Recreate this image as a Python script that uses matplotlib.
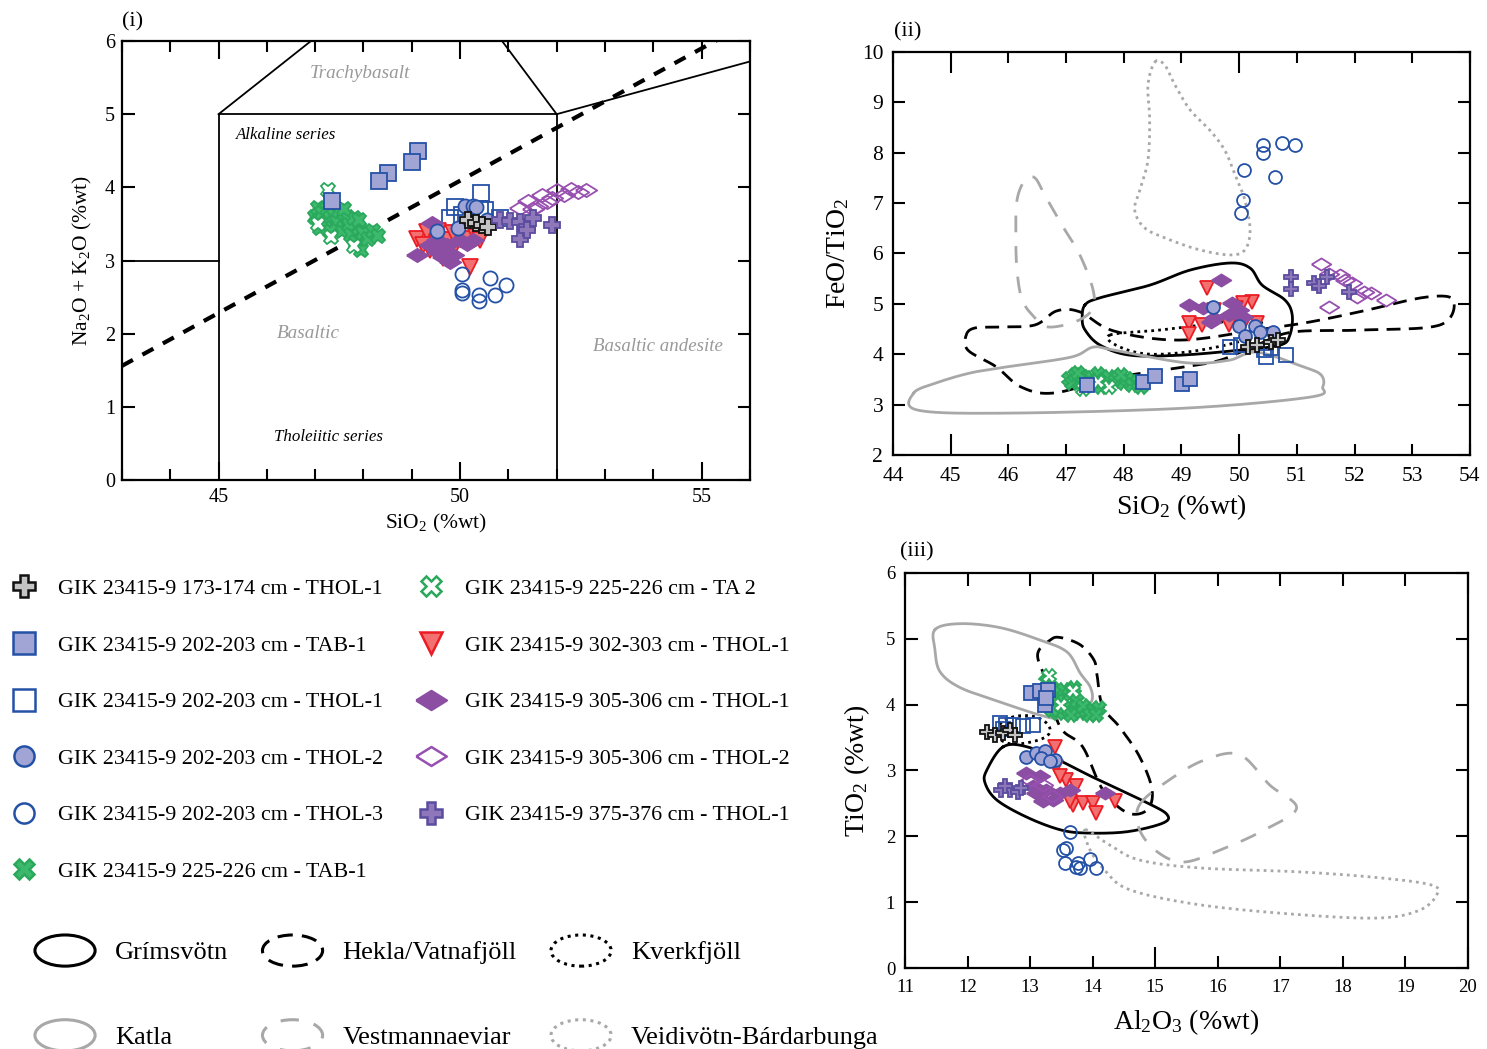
import numpy as np
import matplotlib
matplotlib.use("Agg")
import matplotlib.pyplot as plt
from matplotlib.lines import Line2D
from matplotlib.patches import Ellipse
from matplotlib.legend_handler import HandlerPatch
from matplotlib.ticker import MultipleLocator, FuncFormatter

plt.rcParams['font.family'] = ['Liberation Serif', 'DejaVu Serif']
plt.rcParams['mathtext.fontset'] = 'custom'
plt.rcParams['mathtext.rm'] = 'Liberation Serif'
plt.rcParams['mathtext.it'] = 'Liberation Serif:italic'

# ---------------- data: panel (i) SiO2 vs Na2O+K2O ----------------
tas_c173 = ([50.17, 50.34, 50.45, 50.58], [3.56, 3.51, 3.48, 3.46])
tas_c202_tab1 = ([49.13, 49.0, 48.51, 48.32, 47.35], [4.50, 4.35, 4.19, 4.08, 3.82])
tas_c202_thol1 = ([50.43, 49.89, 50.41, 49.79, 50.52, 50.83, 50.03],
                  [3.92, 3.73, 3.71, 3.58, 3.69, 3.58, 3.62])
tas_c202_thol2 = ([50.10, 50.26, 50.34, 50.56, 49.96, 49.53], [3.74, 3.75, 3.73, 3.56, 3.44, 3.41])
tas_c202_thol3 = ([50.03, 50.62, 50.95, 50.05, 50.03, 50.40, 50.72, 50.40],
                  [2.82, 2.76, 2.66, 2.60, 2.56, 2.53, 2.53, 2.44])
tas_c225_tab1 = ([47.0, 47.05, 47.1, 47.15, 47.2, 47.25, 47.3, 47.35, 47.4, 47.45, 47.5, 47.55, 47.6, 47.65,
                  47.7, 47.75, 47.8, 47.85, 47.9, 47.95, 48.0, 48.1, 48.2, 48.3, 47.3, 47.1, 47.6, 47.9],
                 [3.60, 3.72, 3.55, 3.65, 3.50, 3.70, 3.58, 3.45, 3.62, 3.52, 3.68, 3.40, 3.55, 3.60,
                  3.48, 3.35, 3.58, 3.25, 3.45, 3.15, 3.38, 3.30, 3.40, 3.33, 3.40, 3.45, 3.70, 3.55])
tas_c225_ta2 = ([47.27, 47.33, 47.05, 47.8], [3.97, 3.32, 3.50, 3.20])
tas_c302 = ([49.10, 49.31, 49.52, 49.72, 49.86, 50.10, 50.34, 50.41, 49.38, 49.65, 50.20, 49.86, 49.24, 49.55],
            [3.30, 3.39, 3.25, 3.28, 3.37, 3.30, 3.32, 3.28, 3.14, 3.03, 2.91, 3.14, 3.21, 3.41])
tas_c305_thol1 = ([49.10, 49.41, 49.52, 49.72, 50.0, 50.14, 49.86, 49.65, 49.79, 49.38, 50.27, 49.55],
                  [3.07, 3.51, 3.28, 3.21, 3.28, 3.23, 3.07, 3.05, 2.98, 3.21, 3.28, 3.12])
tas_c305_thol2 = ([51.4, 51.7, 52.0, 52.3, 52.6, 51.6, 51.9, 51.25, 52.15, 51.5, 52.45, 51.8],
                  [3.82, 3.89, 3.96, 3.98, 3.97, 3.75, 3.85, 3.72, 3.90, 3.70, 3.93, 3.80])
tas_c375 = ([50.83, 51.03, 51.24, 51.38, 51.52, 51.90, 51.24, 51.38],
            [3.55, 3.54, 3.53, 3.46, 3.58, 3.48, 3.30, 3.42])

# TAS field boundaries and alkaline / subalkaline divide
basalt_x = [45, 45, 52, 52]
basalt_y = [0, 5, 5, 0]
picro_x = [43, 45]
picro_y = [3, 3]
trachy_left_x = [45, 49.4]
trachy_left_y = [5, 7.3]
trachy_right_x = [52, 49.4]
trachy_right_y = [5, 7.3]
andesite_top_x = [52, 57]
andesite_top_y = [5, 5.9]
divide_x = [43, 56]
divide_y = [1.56, 6.26]

# ---------------- data: panel (ii) SiO2 vs FeO/TiO2 ----------------
fe_c173 = ([50.16, 50.31, 50.56, 50.68], [4.15, 4.18, 4.25, 4.28])
fe_c202_tab1 = ([47.37, 48.33, 48.55, 49.01, 49.15], [3.39, 3.45, 3.57, 3.41, 3.50])
fe_c202_thol1 = ([49.85, 50.03, 50.43, 50.47, 50.81, 50.56], [4.15, 4.18, 4.08, 3.95, 3.98, 4.12])
fe_c202_thol2 = ([49.54, 49.99, 50.27, 50.11, 50.36, 50.59], [4.93, 4.55, 4.56, 4.36, 4.45, 4.45])
fe_c202_thol3 = ([50.41, 50.41, 50.74, 50.96, 50.08, 50.63, 50.06, 50.03],
                 [8.15, 8.00, 8.20, 8.15, 7.65, 7.52, 7.06, 6.80])
fe_c225_tab1 = ([47.05, 47.1, 47.15, 47.25, 47.3, 47.35, 47.45, 47.5, 47.55, 47.65, 47.7,
                 47.75, 47.85, 47.9, 48.0, 48.05, 48.15, 48.25, 47.6, 47.2, 47.95, 48.3],
                [3.50, 3.42, 3.58, 3.45, 3.55, 3.38, 3.52, 3.44, 3.60, 3.48, 3.40,
                 3.55, 3.46, 3.52, 3.42, 3.50, 3.38, 3.45, 3.35, 3.62, 3.58, 3.35])
fe_c225_ta2 = ([47.3, 47.75, 47.55], [3.30, 3.35, 3.45])
fe_c302 = ([49.44, 50.22, 50.06, 49.94, 49.57, 49.14, 49.35, 49.14, 50.31, 49.82, 50.09],
           [5.31, 5.04, 5.01, 4.91, 4.88, 4.61, 4.58, 4.41, 4.61, 4.58, 4.61])
fe_c305_thol1 = ([49.69, 49.14, 49.38, 49.88, 50.0, 49.57, 49.82, 50.06, 49.51],
                 [5.47, 4.98, 4.91, 5.01, 4.88, 4.71, 4.78, 4.74, 4.64])
fe_c305_thol2 = ([51.42, 51.55, 51.74, 51.83, 51.95, 52.17, 52.29, 52.54, 51.55, 52.04],
                 [5.80, 5.60, 5.57, 5.47, 5.41, 5.24, 5.21, 5.08, 4.94, 5.14])
fe_c375 = ([50.90, 50.90, 51.30, 51.39, 51.52, 51.90], [5.54, 5.29, 5.41, 5.35, 5.54, 5.24])

# volcanic system fields, panel (ii)
fe_grims_x = [47.33, 47.59, 48.45, 49.15, 49.84, 50.19, 50.40, 50.79, 50.92, 50.88, 50.71, 50.01, 48.97, 48.11, 47.59, 47.33, 47.28]
fe_grims_y = [4.98, 5.12, 5.37, 5.67, 5.81, 5.71, 5.37, 5.08, 4.78, 4.38, 4.18, 4.08, 3.98, 3.98, 4.18, 4.48, 4.72]
fe_hekla_x = [45.27, 45.42, 45.85, 46.46, 46.84, 47.24, 47.83, 48.97, 50.31, 51.23, 52.16, 53.22, 53.71, 53.48,
              52.16, 50.93, 50.31, 49.67, 49.06, 47.83, 46.79, 46.22, 45.79, 45.30]
fe_hekla_y = [4.38, 4.52, 4.54, 4.58, 4.86, 4.84, 4.46, 4.28, 4.48, 4.64, 4.86, 5.13, 5.08, 4.58,
              4.48, 4.44, 4.18, 3.88, 3.75, 3.53, 3.23, 3.35, 3.75, 4.08]
fe_kverk_x = [47.76, 48.63, 49.49, 50.19, 50.40, 50.19, 49.32, 48.45, 47.90]
fe_kverk_y = [4.38, 4.48, 4.60, 4.72, 4.58, 4.32, 4.08, 4.00, 4.16]
fe_katla_x = [44.36, 44.43, 45.98, 49.08, 51.24, 51.45, 51.42, 51.11, 50.31, 49.82, 49.08, 47.83, 47.47, 47.08, 45.98, 45.35, 44.75]
fe_katla_y = [3.23, 2.89, 2.83, 2.93, 3.15, 3.35, 3.59, 3.75, 4.04, 3.88, 3.83, 4.08, 4.14, 3.94, 3.75, 3.63, 3.43]
fe_vestm_x = [46.15, 46.29, 46.46, 46.63, 46.93, 47.24, 47.47, 47.45, 47.15, 46.69, 46.46, 46.24, 46.15, 46.13]
fe_vestm_y = [7.06, 7.46, 7.50, 7.16, 6.56, 5.97, 5.27, 4.88, 4.64, 4.54, 4.72, 5.08, 5.67, 6.37]
fe_veidi_x = [48.54, 48.71, 48.89, 49.15, 49.49, 49.75, 49.93, 50.10, 50.19, 50.10, 49.84, 49.32, 48.80, 48.37, 48.19, 48.28, 48.42, 48.45, 48.42]
fe_veidi_y = [9.80, 9.74, 9.34, 8.85, 8.45, 8.05, 7.56, 7.06, 6.46, 6.07, 5.97, 6.07, 6.27, 6.50, 6.86, 7.26, 7.85, 8.65, 9.34]

# ---------------- data: panel (iii) Al2O3 vs TiO2 ----------------
ti_c173 = ([12.31, 12.44, 12.57, 12.68, 12.76], [3.59, 3.54, 3.57, 3.62, 3.54])
ti_c202_tab1 = ([13.02, 13.16, 13.29, 13.24, 13.26], [4.17, 4.20, 4.22, 4.00, 4.10])
ti_c202_thol1 = ([12.52, 12.62, 12.73, 12.89, 13.05, 12.57], [3.72, 3.69, 3.69, 3.68, 3.69, 3.63])
ti_c202_thol2 = ([12.94, 13.10, 13.24, 13.18, 13.40, 13.32], [3.21, 3.26, 3.29, 3.19, 3.16, 3.14])
ti_c202_thol3 = ([13.64, 13.53, 13.58, 13.56, 13.74, 13.80, 13.96, 14.06, 13.77],
                 [2.07, 1.79, 1.82, 1.59, 1.54, 1.52, 1.65, 1.52, 1.59])
ti_c225_tab1 = ([13.25, 13.35, 13.45, 13.55, 13.62, 13.70, 13.4, 13.5, 13.6, 13.7, 13.8, 13.9, 14.0, 14.1,
                 13.45, 13.55, 13.75, 13.85, 13.95, 13.35, 13.65, 14.05],
                [4.35, 4.25, 4.20, 4.22, 4.15, 4.25, 4.05, 3.95, 3.90, 3.95, 3.88, 3.92, 3.90, 3.95,
                 3.88, 4.05, 4.05, 3.98, 3.85, 3.92, 3.85, 3.85])
ti_c225_ta2 = ([13.3, 13.68, 13.5], [4.43, 4.20, 4.00])
ti_c302 = ([13.40, 13.42, 13.58, 13.74, 13.48, 13.69, 13.85, 14.01, 14.06, 14.35, 13.64],
           [3.36, 3.06, 2.86, 2.76, 2.91, 2.48, 2.50, 2.51, 2.35, 2.53, 2.53])
ti_c305_thol1 = ([12.94, 13.16, 13.05, 13.26, 13.48, 13.64, 13.37, 13.21, 14.19, 13.10],
                 [2.96, 2.91, 2.76, 2.71, 2.66, 2.71, 2.55, 2.53, 2.66, 2.66])
ti_c305_thol2 = ([13.0, 13.2, 13.35], [2.85, 2.78, 2.62])
ti_c375 = ([12.54, 12.68, 12.81, 12.86, 12.60], [2.71, 2.71, 2.68, 2.73, 2.76])

# volcanic system fields, panel (iii)
ti_grims_x = [12.57, 12.31, 12.28, 12.47, 12.95, 13.48, 13.91, 14.55, 15.12, 15.19, 14.87, 14.00, 13.52, 12.95]
ti_grims_y = [3.36, 3.01, 2.81, 2.55, 2.29, 2.10, 2.05, 2.07, 2.20, 2.33, 2.51, 2.90, 3.13, 3.36]
ti_hekla_x = [13.32, 13.48, 13.80, 14.02, 14.07, 14.16, 14.43, 14.75, 14.95, 14.87, 14.55, 14.16, 13.84, 13.48, 13.27, 13.12]
ti_hekla_y = [4.98, 5.02, 4.91, 4.68, 4.45, 3.97, 3.66, 3.21, 2.71, 2.40, 2.36, 2.71, 3.36, 3.66, 4.33, 4.76]
ti_kverk_x = [12.44, 12.68, 13.00, 13.24, 13.32, 13.16, 12.76, 12.52]
ti_kverk_y = [3.62, 3.80, 3.83, 3.74, 3.59, 3.47, 3.40, 3.47]
ti_katla_x = [11.48, 11.88, 12.52, 13.16, 13.59, 13.80, 13.96, 13.99, 13.84, 13.48, 13.20, 12.52, 11.88, 11.56, 11.48]
ti_katla_y = [5.14, 5.23, 5.17, 4.98, 4.80, 4.48, 4.27, 4.07, 3.92, 3.80, 3.83, 4.04, 4.26, 4.50, 4.83]
ti_vestm_x = [14.75, 15.23, 15.79, 16.35, 16.83, 17.26, 16.75, 16.11, 15.47, 15.04, 14.75]
ti_vestm_y = [2.48, 2.86, 3.16, 3.24, 2.78, 2.43, 2.10, 1.82, 1.61, 1.76, 2.10]
ti_veidi_x = [13.88, 14.27, 14.75, 15.71, 17.31, 18.59, 19.42, 19.50, 19.23, 18.59, 17.31, 15.71, 14.59, 14.19, 13.96]
ti_veidi_y = [2.10, 1.87, 1.64, 1.52, 1.46, 1.37, 1.26, 1.11, 0.88, 0.76, 0.81, 0.96, 1.19, 1.49, 1.79]

sample_labels = ['GIK 23415-9 173-174 cm - THOL-1', 'GIK 23415-9 202-203 cm - TAB-1',
                 'GIK 23415-9 202-203 cm - THOL-1', 'GIK 23415-9 202-203 cm - THOL-2',
                 'GIK 23415-9 202-203 cm - THOL-3', 'GIK 23415-9 225-226 cm - TAB-1',
                 'GIK 23415-9 225-226 cm - TA 2', 'GIK 23415-9 302-303 cm - THOL-1',
                 'GIK 23415-9 305-306 cm - THOL-1', 'GIK 23415-9 305-306 cm - THOL-2',
                 'GIK 23415-9 375-376 cm - THOL-1']
field_labels = ['Grímsvötn', 'Hekla/Vatnafjöll', 'Kverkfjöll', 'Katla', 'Vestmannaeviar', 'Veidivötn-Bárdarbunga']

# ---------------- styles ----------------
blue = '#2451a6'
lav = '#a0a5d6'
wide_diamond = [(-1, 0), (0, 0.62), (1, 0), (0, -0.62), (-1, 0)]
keys = ['c173', 'c202_tab1', 'c202_thol1', 'c202_thol2', 'c202_thol3', 'c225_tab1',
        'c225_ta2', 'c302', 'c305_thol1', 'c305_thol2', 'c375']
styles = {
    'c173': dict(marker='P', ms=16, mfc='#c4c4c4', mec='#111111'),
    'c202_tab1': dict(marker='s', ms=15.5, mfc=lav, mec=blue),
    'c202_thol1': dict(marker='s', ms=15.5, mfc='none', mec=blue),
    'c202_thol2': dict(marker='o', ms=14.5, mfc=lav, mec=blue),
    'c202_thol3': dict(marker='o', ms=14.5, mfc='none', mec=blue),
    'c225_tab1': dict(marker='X', ms=15, mfc='#3cb96c', mec='#2aa85c'),
    'c225_ta2': dict(marker='X', ms=15, mfc='white', mec='#2aa85c'),
    'c302': dict(marker='v', ms=16, mfc='#f37070', mec='#ec1c24'),
    'c305_thol1': dict(marker=wide_diamond, ms=22, mfc='#8b4ea3', mec='#8b4ea3'),
    'c305_thol2': dict(marker=wide_diamond, ms=22, mfc='none', mec='#9850b0'),
    'c375': dict(marker='P', ms=16, mfc='#8e78ba', mec='#5a4c9f'),
}
draw_order = ['c225_tab1', 'c225_ta2', 'c202_tab1', 'c202_thol1', 'c302', 'c305_thol1',
              'c202_thol2', 'c173', 'c305_thol2', 'c375', 'c202_thol3']

gray = '#a8a8a8'
dash = (0, (5, 3))
dot = (0, (1, 1.5))
field_styles = [('black', '-'), ('black', dash), ('black', dot), (gray, '-'), (gray, (0, (6, 5))), (gray, dot)]


def smooth(xs, ys, n=24):
    p = np.column_stack([xs, ys])
    m = len(p)
    t = np.linspace(0, 1, n, endpoint=False)[:, None]
    out = []
    for i in range(m):
        p0, p1, p2, p3 = p[(i - 1) % m], p[i], p[(i + 1) % m], p[(i + 2) % m]
        out.append(0.5 * (2 * p1 + (-p0 + p2) * t + (2 * p0 - 5 * p1 + 4 * p2 - p3) * t ** 2
                          + (-p0 + 3 * p1 - 3 * p2 + p3) * t ** 3))
    out.append(p[:1])
    out = np.vstack(out)
    return out[:, 0], out[:, 1]


def draw_points(ax, data, scale):
    for k in draw_order:
        x, y = data[k]
        st = styles[k]
        ax.plot(x, y, linestyle='none', marker=st['marker'], markersize=st['ms'] * scale,
                mfc=st['mfc'], mec=st['mec'], mew=1.3, zorder=3)


def draw_fields(ax, fields):
    for (fx, fy), (col, ls) in zip(fields, field_styles):
        sx, sy = smooth(fx, fy)
        ax.plot(sx, sy, color=col, linestyle=ls, linewidth=2.0, zorder=2)


def frame(ax, lab_size, major_len, minor_len, pad):
    for s in ax.spines.values():
        s.set_linewidth(1.6)
    ax.tick_params(which='both', direction='in', top=True, right=True, width=1.5, labelsize=lab_size, pad=pad)
    ax.tick_params(which='major', length=major_len)
    ax.tick_params(which='minor', length=minor_len)


fig = plt.figure(figsize=(14.87, 10.49), dpi=100)

# ---- panel (i)
ax1 = fig.add_axes([0.0820, 0.5424, 0.4223, 0.4185])
for bx, by in [(basalt_x, basalt_y), (picro_x, picro_y), (trachy_left_x, trachy_left_y),
               (trachy_right_x, trachy_right_y), (andesite_top_x, andesite_top_y)]:
    ax1.plot(bx, by, color='black', linewidth=1.3, zorder=1)
ax1.plot(divide_x, divide_y, color='black', linewidth=3.0, linestyle=(0, (3, 2.6)), zorder=2)
draw_points(ax1, dict(zip(keys, [tas_c173, tas_c202_tab1, tas_c202_thol1, tas_c202_thol2, tas_c202_thol3,
                                 tas_c225_tab1, tas_c225_ta2, tas_c302, tas_c305_thol1, tas_c305_thol2,
                                 tas_c375])), 0.7)
ax1.set_xlim(43, 56)
ax1.set_ylim(0, 6)
ax1.xaxis.set_major_locator(MultipleLocator(5))
ax1.xaxis.set_minor_locator(MultipleLocator(1))
ax1.yaxis.set_major_locator(MultipleLocator(1))
frame(ax1, 14.5, 13, 8, 6)
ax1.tick_params(axis='y', which='major', length=9, pad=5)
ax1.set_xlabel(r'$\mathregular{SiO_2}$ (%wt)', fontsize=15.5, labelpad=3)
ax1.set_ylabel(r'$\mathregular{Na_2O}$ + $\mathregular{K_2O}$ (%wt)', fontsize=15.5, labelpad=8)
ax1.text(47.93, 5.56, 'Trachybasalt', color='#999999', style='italic', fontsize=13.8, ha='center', va='center')
ax1.text(46.4, 4.71, 'Alkaline series', color='black', style='italic', fontsize=12.2, ha='center', va='center')
ax1.text(46.85, 2.0, 'Basaltic', color='#999999', style='italic', fontsize=13.8, ha='center', va='center')
ax1.text(54.1, 1.82, 'Basaltic andesite', color='#999999', style='italic', fontsize=13.6, ha='center', va='center')
ax1.text(47.27, 0.59, 'Tholeiitic series', color='black', style='italic', fontsize=12.2, ha='center', va='center')

# ---- panel (ii)
ax2 = fig.add_axes([0.6005, 0.5663, 0.3880, 0.3842])
draw_fields(ax2, [(fe_grims_x, fe_grims_y), (fe_hekla_x, fe_hekla_y), (fe_kverk_x, fe_kverk_y),
                  (fe_katla_x, fe_katla_y), (fe_vestm_x, fe_vestm_y), (fe_veidi_x, fe_veidi_y)])
draw_points(ax2, dict(zip(keys, [fe_c173, fe_c202_tab1, fe_c202_thol1, fe_c202_thol2, fe_c202_thol3,
                                 fe_c225_tab1, fe_c225_ta2, fe_c302, fe_c305_thol1, fe_c305_thol2,
                                 fe_c375])), 0.64)
ax2.set_xlim(44, 54)
ax2.set_ylim(2, 10)
ax2.xaxis.set_major_locator(MultipleLocator(5))
ax2.xaxis.set_minor_locator(MultipleLocator(1))
ax2.xaxis.set_minor_formatter(FuncFormatter(lambda v, p: '' if round(v) % 5 == 0 else '%d' % round(v)))
ax2.yaxis.set_major_locator(MultipleLocator(1))
frame(ax2, 15.5, 15, 8, 9)
ax2.tick_params(axis='y', which='major', length=8.5, pad=7)
ax2.set_xlabel(r'$\mathregular{SiO_2}$ (%wt)', fontsize=20, labelpad=4)
ax2.set_ylabel(r'FeO/$\mathregular{TiO_2}$', fontsize=20, labelpad=8)

# ---- panel (iii)
ax3 = fig.add_axes([0.6086, 0.0772, 0.3786, 0.3766])
draw_fields(ax3, [(ti_grims_x, ti_grims_y), (ti_hekla_x, ti_hekla_y), (ti_kverk_x, ti_kverk_y),
                  (ti_katla_x, ti_katla_y), (ti_vestm_x, ti_vestm_y), (ti_veidi_x, ti_veidi_y)])
draw_points(ax3, dict(zip(keys, [ti_c173, ti_c202_tab1, ti_c202_thol1, ti_c202_thol2, ti_c202_thol3,
                                 ti_c225_tab1, ti_c225_ta2, ti_c302, ti_c305_thol1, ti_c305_thol2,
                                 ti_c375])), 0.64)
ax3.set_xlim(11, 20)
ax3.set_ylim(0, 6)
ax3.xaxis.set_major_locator(MultipleLocator(5))
ax3.xaxis.set_minor_locator(MultipleLocator(1))
ax3.xaxis.set_minor_formatter(FuncFormatter(lambda v, p: '' if round(v) % 5 == 0 else '%d' % round(v)))
ax3.yaxis.set_major_locator(MultipleLocator(1))
frame(ax3, 13.5, 15, 9, 8)
ax3.tick_params(axis='y', which='major', length=9, pad=7)
ax3.set_xlabel(r'$\mathregular{Al_2O_3}$ (%wt)', fontsize=20, labelpad=8)
ax3.set_ylabel(r'$\mathregular{TiO_2}$ (%wt)', fontsize=20, labelpad=10)

fig.text(0.0894, 0.979, '(i)', fontsize=16, ha='center', va='center')
fig.text(0.6106, 0.9700, '(ii)', fontsize=16, ha='center', va='center')
fig.text(0.6167, 0.4740, '(iii)', fontsize=16, ha='center', va='center')

# ---- legends
handles = []
for k in keys:
    st = styles[k]
    handles.append(Line2D([], [], linestyle='none', marker=st['marker'], markersize=st['ms'],
                          mfc=st['mfc'], mec=st['mec'], mew=1.8))
fig.legend(handles, sample_labels, loc='upper left', bbox_to_anchor=(0.00726, 0.4483), ncol=2,
           frameon=False, fontsize=15.8, borderpad=0, borderaxespad=0, handlelength=1.2,
           handletextpad=0.95, columnspacing=1.58, labelspacing=1.65)


def make_ellipse(legend, orig_handle, xdescent, ydescent, width, height, fontsize):
    return Ellipse(xy=(0.5 * width - xdescent, 0.5 * height - ydescent), width=width, height=height)


# column-major order so rows read Grímsvötn/Hekla/Kverkfjöll, then Katla/Vestmannaeviar/Veidivötn
col_order = [0, 3, 1, 4, 2, 5]
ell = [Ellipse((0, 0), 1, 1, facecolor='none', edgecolor=field_styles[i][0], linestyle=field_styles[i][1],
               linewidth=2.2) for i in col_order]
fig.legend(ell, [field_labels[i] for i in col_order], loc='upper left', bbox_to_anchor=(0.0235, 0.1087),
           ncol=3, frameon=False, fontsize=19, borderpad=0, borderaxespad=0, handlelength=2.28,
           handleheight=1.44, handletextpad=0.75, columnspacing=1.3, labelspacing=2.03,
           handler_map={Ellipse: HandlerPatch(patch_func=make_ellipse)})

fig.savefig('out.png', dpi=100)
